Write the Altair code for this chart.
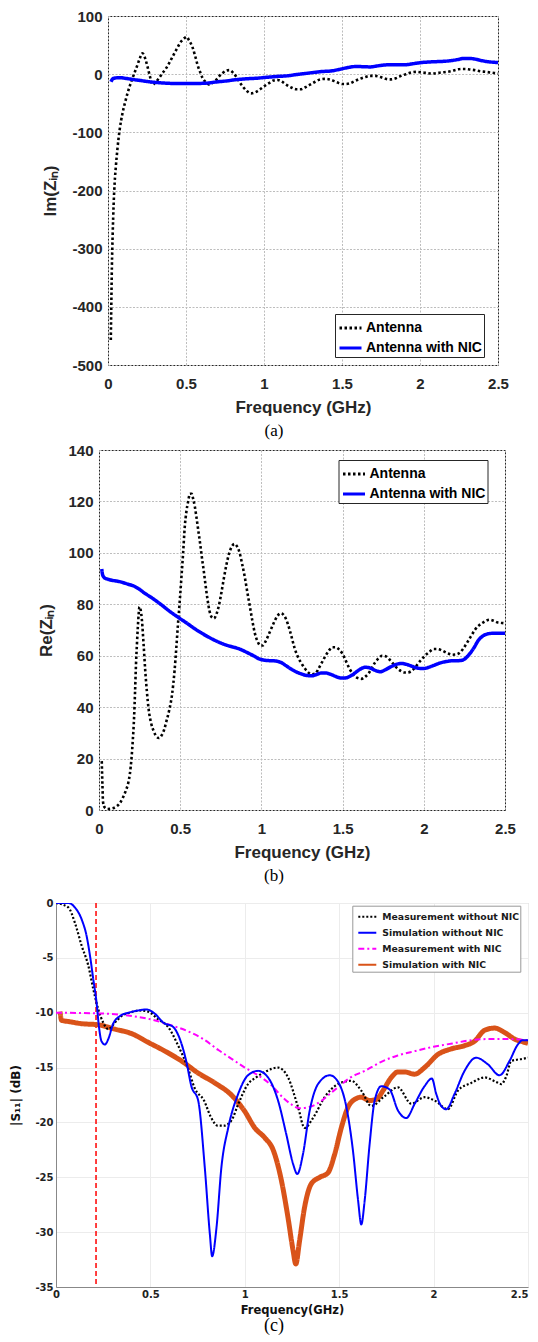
import altair as alt
import pandas as pd

FREQ_TICKS = [0, 0.5, 1, 1.5, 2, 2.5]

# ---------------- Panel (a): Im(Zin) ----------------
SER_A = ["Antenna", "Antenna with NIC"]
a_ant_f = [0.018, 0.021, 0.025, 0.03, 0.036, 0.043, 0.05, 0.061, 0.075, 0.093, 0.11, 0.125, 0.14, 0.157,
           0.175, 0.189, 0.205, 0.221, 0.237, 0.254, 0.27, 0.286, 0.305, 0.329, 0.35, 0.372, 0.392, 0.414,
           0.44, 0.468, 0.49, 0.504, 0.52, 0.542, 0.558, 0.574, 0.59, 0.607, 0.628, 0.65, 0.67, 0.693,
           0.715, 0.735, 0.757, 0.778, 0.8, 0.821, 0.842, 0.863, 0.89, 0.917, 0.945, 0.97, 1.0, 1.035,
           1.06, 1.088, 1.115, 1.142, 1.175, 1.206, 1.235, 1.262, 1.295, 1.328, 1.36, 1.394, 1.42, 1.45,
           1.477, 1.504, 1.525, 1.548, 1.58, 1.615, 1.648, 1.68, 1.715, 1.747, 1.78, 1.81, 1.845, 1.879,
           1.91, 1.945, 1.98, 2.01, 2.045, 2.077, 2.11, 2.14, 2.175, 2.21, 2.24, 2.264, 2.29, 2.32, 2.35,
           2.385, 2.42, 2.45, 2.475, 2.5]
a_ant_v = [-457, -400, -330, -275, -225, -185, -160, -127, -95, -67, -48, -33, -20, -7,
           6, 16, 28, 36, 28, 12, -5, -18, -14, -6, 2, 10, 19, 30,
           43, 56, 62, 64, 58, 46, 32, 16, 4, -7, -14, -18, -15, -10,
           -3, 2, 6, 7, 3, -4, -13, -21, -29, -33, -31, -27, -21, -15,
           -11, -10, -13, -18, -23, -26, -26, -23, -18, -13, -9, -8, -9, -12,
           -15, -17, -17, -16, -12, -8, -5, -3, -3, -5, -8, -9, -7, -3,
           0, 3, 4, 3, 2, 1, 2, 3, 4, 6, 8, 9, 9, 8, 7,
           5, 4, 3, 2, 1]
a_nic_f = [0.019, 0.025, 0.03, 0.04, 0.072, 0.12, 0.157, 0.21, 0.264, 0.32, 0.372, 0.44, 0.5, 0.56,
           0.628, 0.69, 0.757, 0.82, 0.885, 0.95, 1.013, 1.08, 1.142, 1.2, 1.26, 1.32, 1.37, 1.43, 1.48,
           1.54, 1.58, 1.615, 1.68, 1.735, 1.79, 1.85, 1.9, 1.955, 2.01, 2.06, 2.1, 2.15, 2.19, 2.24,
           2.28, 2.32, 2.36, 2.4, 2.45, 2.5]
a_nic_v = [-13, -10, -8, -7, -6, -7.5, -9, -11, -13, -14.5, -15.5, -16, -16, -16,
           -15.5, -13.5, -11.7, -9.5, -8, -7, -5.5, -4, -3, -1, 1, 3, 4.5, 5.5, 8,
           11.5, 13, 13, 12.5, 14.5, 16, 16, 16, 18, 20, 21, 21.5, 22, 23, 25,
           27, 27, 25.5, 23, 21, 20]

# ---------------- Panel (b): Re(Zin) ----------------
b_ant_f = [0.017, 0.021, 0.025, 0.035, 0.053, 0.08, 0.106, 0.13, 0.148, 0.165, 0.18, 0.19, 0.2, 0.208,
           0.216, 0.222, 0.228, 0.234, 0.239, 0.244, 0.249, 0.256, 0.264, 0.275, 0.285, 0.295, 0.306,
           0.32, 0.338, 0.355, 0.37, 0.385, 0.4, 0.415, 0.433, 0.45, 0.465, 0.476, 0.486, 0.497, 0.507,
           0.518, 0.528, 0.538, 0.549, 0.56, 0.57, 0.58, 0.59, 0.602, 0.613, 0.624, 0.634, 0.645, 0.655,
           0.668, 0.68, 0.694, 0.708, 0.722, 0.74, 0.755, 0.77, 0.785, 0.8, 0.818, 0.835, 0.85, 0.866,
           0.882, 0.898, 0.914, 0.93, 0.946, 0.961, 0.977, 0.993, 1.009, 1.025, 1.04, 1.057, 1.078,
           1.099, 1.12, 1.135, 1.15, 1.162, 1.183, 1.204, 1.225, 1.247, 1.268, 1.289, 1.31, 1.331,
           1.352, 1.373, 1.395, 1.416, 1.437, 1.458, 1.48, 1.5, 1.52, 1.542, 1.563, 1.585, 1.6, 1.616,
           1.638, 1.659, 1.68, 1.7, 1.722, 1.744, 1.765, 1.786, 1.81, 1.838, 1.86, 1.88, 1.9, 1.923,
           1.945, 1.965, 1.987, 2.007, 2.035, 2.06, 2.085, 2.113, 2.145, 2.176, 2.2, 2.218, 2.24, 2.261,
           2.29, 2.314, 2.34, 2.367, 2.39, 2.409, 2.43, 2.451, 2.475, 2.5]
b_ant_v = [19, 10, 3, 1, 0.4, 0.6, 1.3, 2.8, 4.9, 7.5, 10.5, 14, 20, 27,
           36, 46, 57, 65, 71, 76, 79, 78, 74, 64, 54, 46, 39,
           34, 30.5, 28.5, 28, 29, 31, 34.5, 39, 45, 54, 63, 72, 81, 90,
           100, 110, 116, 120, 123, 123, 121, 118, 113, 108, 103, 98, 93, 88,
           82, 77.5, 75, 74.5, 76, 80, 85, 90.5, 95.5, 99.5, 102.5, 103.5, 102.5, 100,
           95.5, 90.5, 84.5, 78.8, 73, 68.4, 65.5, 64, 64, 65.5, 67.5, 70, 73,
           75.5, 76.5, 76, 74.5, 72.5, 68, 63, 59.5, 57, 55, 53.5, 52.8, 53,
           55, 57.4, 60, 62, 63.3, 63.3, 62.3, 60.7, 58, 55, 53, 51.6, 51.2, 51,
           51.8, 53, 55.2, 57.4, 59, 60, 59.8, 58.7, 57, 55, 54, 53.5, 53.5, 54,
           55.3, 57, 58.6, 60, 61.5, 62.6, 62.6, 62, 61, 60.4, 60.5, 61, 62.5, 64.5,
           67.5, 70, 71.8, 73, 73.8, 74, 73.6, 73, 72.8, 72.6]
b_nic_f = [0.017, 0.022, 0.032, 0.063, 0.127, 0.18, 0.211, 0.245, 0.275, 0.33, 0.38, 0.43, 0.486, 0.54,
           0.592, 0.645, 0.697, 0.74, 0.78, 0.825, 0.866, 0.91, 0.951, 0.985, 1.014, 1.045, 1.078, 1.1,
           1.12, 1.15, 1.183, 1.215, 1.247, 1.28, 1.31, 1.34, 1.37, 1.395, 1.42, 1.448, 1.475, 1.5,
           1.522, 1.542, 1.57, 1.595, 1.615, 1.638, 1.665, 1.69, 1.712, 1.733, 1.765, 1.797, 1.83, 1.86,
           1.89, 1.923, 1.955, 1.987, 2.01, 2.03, 2.06, 2.092, 2.12, 2.145, 2.17, 2.198, 2.22, 2.24,
           2.262, 2.282, 2.31, 2.335, 2.36, 2.388, 2.42, 2.451, 2.5]
b_nic_v = [93.7, 91.5, 90.4, 89.6, 88.8, 87.8, 87.2, 86, 84.6, 82.3, 80, 77.5, 75, 72.7,
           70.4, 68.3, 66.5, 65.2, 64.2, 63.4, 62.6, 61.3, 60, 58.8, 58.3, 58.1, 58, 57.8,
           57.4, 56.2, 54.8, 53.7, 52.9, 52.3, 52.2, 52.7, 53.3, 53.3, 52.9, 52.2, 51.5, 51.3,
           51.4, 51.9, 53, 54.2, 55, 55.5, 55.3, 54.6, 54, 53.8, 54.6, 55.7, 56.6, 57,
           56.7, 56, 55.3, 55, 55.1, 55.5, 56.2, 57, 57.5, 57.8, 58, 58, 58.1, 58.3,
           59.3, 60.7, 63.2, 65.9, 67.5, 68.4, 68.7, 68.7, 68.7]

# ---------------- Panel (c): |S11| ----------------
SER_C = ["Measurement without NIC", "Simulation without NIC", "Measurement with NIC", "Simulation with NIC"]
c_mw_f = [0.0, 0.065, 0.1, 0.136, 0.171, 0.197, 0.224, 0.25, 0.277, 0.312, 0.347, 0.39, 0.444, 0.488,
          0.541, 0.594, 0.647, 0.7, 0.735, 0.784, 0.82, 0.857, 0.89, 0.93, 0.966, 1.017, 1.06, 1.106,
          1.176, 1.229, 1.282, 1.317, 1.361, 1.423, 1.494, 1.564, 1.617, 1.67, 1.741, 1.811, 1.882,
          1.952, 2.005, 2.076, 2.129, 2.199, 2.27, 2.33, 2.358, 2.385, 2.411, 2.473, 2.5]
c_mw_v = [0, -0.4, -1.8, -3.9, -5.7, -7.8, -9.7, -10.9, -11.5, -10.9, -10.3, -10.0, -9.8, -9.9,
          -10.6, -11.3, -13.0, -15.1, -16.9, -18.0, -19.5, -20.3, -20.3, -19.8, -18.3, -16.5, -15.9, -15.4,
          -15.0, -15.9, -18.6, -20.5, -19.6, -17.7, -16.5, -16.2, -17.1, -18.5, -17.6, -16.8, -18.3,
          -17.7, -18.0, -18.8, -17.1, -16.4, -15.9, -16.3, -16.5, -15.8, -14.4, -14.2, -14.1]
c_sw_f = [0.0, 0.065, 0.1, 0.136, 0.162, 0.18, 0.197, 0.215, 0.227, 0.241, 0.259, 0.277, 0.303, 0.339,
          0.383, 0.435, 0.479, 0.524, 0.568, 0.621, 0.656, 0.691, 0.717, 0.753, 0.788, 0.815, 0.827,
          0.85, 0.876, 0.912, 0.965, 1.017, 1.07, 1.123, 1.176, 1.22, 1.256, 1.278, 1.308, 1.344, 1.388,
          1.45, 1.494, 1.538, 1.573, 1.6, 1.617, 1.635, 1.661, 1.688, 1.723, 1.767, 1.811, 1.855, 1.9,
          1.952, 1.991, 2.014, 2.04, 2.067, 2.111, 2.164, 2.225, 2.287, 2.349, 2.402, 2.446, 2.473, 2.5]
c_sw_v = [0, 0, -0.4, -1.5, -3.0, -4.8, -6.9, -9.1, -11.2, -12.6, -12.9, -12.4, -11.0, -10.3,
          -10.0, -9.8, -9.7, -10.1, -10.9, -11.3, -12.4, -14.5, -16.7, -18.0, -24.1, -30.2, -32.2,
          -29.6, -24.1, -20.5, -17.4, -15.7, -15.3, -15.9, -18.0, -21.1, -23.8, -24.7, -22.9, -18.9, -16.5,
          -15.7, -16.3, -18.6, -22.6, -27.1, -29.3, -27.1, -22.0, -18.0, -16.7, -17.0, -18.9, -19.6, -18.3,
          -16.7, -16.0, -17.4, -18.5, -18.8, -17.4, -15.3, -14.1, -14.7, -15.7, -14.4, -12.9, -12.5, -12.5]
c_mn_f = [0.0, 0.2, 0.35, 0.5, 0.6, 0.7, 0.78, 0.86, 0.93, 1.0, 1.07, 1.14, 1.2, 1.25, 1.29, 1.34,
          1.4, 1.45, 1.5, 1.56, 1.635, 1.72, 1.81, 1.9, 2.0, 2.1, 2.2, 2.3, 2.4, 2.5]
c_mn_v = [-10.0, -10.05, -10.2, -10.6, -11.1, -11.7, -12.4, -13.4, -14.2, -15.0, -15.7, -16.6, -17.7,
          -18.4, -18.7, -18.6, -18.1, -17.4, -16.7, -15.9, -15.3, -14.5, -13.9, -13.5, -13.1, -12.8,
          -12.5, -12.4, -12.4, -12.5]
c_sn_f = [0.021, 0.03, 0.065, 0.136, 0.224, 0.312, 0.4, 0.488, 0.577, 0.665, 0.753, 0.841, 0.929, 1.0,
          1.053, 1.106, 1.15, 1.194, 1.229, 1.256, 1.27, 1.29, 1.317, 1.352, 1.397, 1.44, 1.476, 1.511,
          1.547, 1.582, 1.617, 1.661, 1.697, 1.732, 1.776, 1.811, 1.847, 1.9, 1.952, 2.023, 2.093, 2.164,
          2.217, 2.27, 2.323, 2.376, 2.429, 2.482, 2.5]
c_sn_v = [-9.9, -10.7, -10.8, -11.0, -11.1, -11.5, -11.9, -12.7, -13.5, -14.4, -15.5, -16.4, -17.5, -19.0,
          -20.5, -21.4, -22.5, -25.3, -28.7, -31.7, -32.9, -30.8, -27.7, -25.6, -25.0, -24.6, -22.9, -20.5,
          -18.6, -17.9, -17.7, -18.0, -17.9, -17.1, -15.9, -15.4, -15.4, -15.6, -15.0, -13.8, -13.3, -13.0,
          -12.6, -11.6, -11.4, -11.8, -12.4, -12.7, -12.8]
c_cutoff = [0.212]


def frame(f, v, name):
    return pd.DataFrame({"f": f, "v": v, "series": name})


AXC = "#262626"
SANS = "Liberation Sans"
PLAIN = "'' + datum.value"

# layout knobs
SPACER = {"a": 33, "b": 29, "c": 0.05}


def spacer(w):
    return alt.Chart(pd.DataFrame({"s": [0]})).mark_point(
        opacity=0, size=0, strokeWidth=0).properties(width=w, height=5)


def indep(ch):
    return ch.resolve_scale(color="independent", strokeDash="independent").resolve_legend(
        color="independent", strokeDash="independent")


def ab_x_axis():
    return alt.Axis(values=FREQ_TICKS, labelExpr=PLAIN, title="Frequency (GHz)", labelFont=SANS,
                    labelFontSize=15, labelFontWeight="bold", labelColor=AXC, labelPadding=11,
                    labelFlush=False, labelOverlap=False, ticks=False, domain=False, grid=True,
                    gridColor="#bdbdbd", gridDash=[2, 1.5], gridWidth=1, titleFont=SANS,
                    titleFontSize=17, titleFontWeight="bold", titleColor=AXC, titlePadding=8)


def ab_y_axis(vals, title):
    return alt.Axis(values=vals, labelExpr=PLAIN, title=title, labelFont=SANS, labelFontSize=15,
                    labelFontWeight="bold", labelColor=AXC, labelPadding=6, labelFlush=False,
                    labelOverlap=False, ticks=False, domain=False, grid=True, gridColor="#bdbdbd",
                    gridDash=[2, 1.5], gridWidth=1, titleFont=SANS, titleFontSize=17,
                    titleFontWeight="bold", titleColor=AXC, titlePadding=12)


def ab_legend(lx, ly):
    return alt.Legend(title=None, orient="none", legendX=lx, legendY=ly, fillColor="white",
                      strokeColor=AXC, padding=1.5, labelFont=SANS, labelFontSize=14,
                      labelFontWeight="bold", labelColor="black", symbolType="stroke",
                      symbolSize=484, symbolStrokeWidth=3, rowPadding=-1.5, labelOffset=3,
                      symbolOffset=1.5)


def ab_panel(df, ydom, yvals, ytitle, lx, ly, w, h, caption, cdx):
    leg = ab_legend(lx, ly)
    x = alt.X("f:Q", scale=alt.Scale(domain=[0, 2.5], nice=False), axis=ab_x_axis())
    y = alt.Y("v:Q", scale=alt.Scale(domain=ydom, nice=False), axis=ab_y_axis(yvals, ytitle))
    color = alt.Color("series:N", scale=alt.Scale(domain=SER_A, range=["#000000", "#0000ff"]), legend=leg)
    dash = alt.StrokeDash("series:N", scale=alt.Scale(domain=SER_A, range=[[2.5, 2.5], [1, 0]]), legend=leg)
    base = alt.Chart(df)
    l1 = base.transform_filter(alt.datum.series == SER_A[0]).mark_line(
        strokeWidth=2.6, interpolate="monotone", clip=True).encode(x=x, y=y, color=color, strokeDash=dash)
    l2 = base.transform_filter(alt.datum.series == SER_A[1]).mark_line(
        strokeWidth=3.5, interpolate="monotone", clip=True).encode(x=x, y=y, color=color, strokeDash=dash)
    return alt.layer(l1, l2).properties(
        width=w, height=h,
        view=alt.ViewBackground(stroke=AXC, strokeWidth=1),
        title=alt.TitleParams(caption, orient="bottom", frame="group", anchor="middle", dx=cdx,
                              font="Liberation Serif", fontSize=17, fontWeight="normal",
                              color="black", offset=8),
    )


dfA = pd.concat([frame(a_ant_f, a_ant_v, SER_A[0]), frame(a_nic_f, a_nic_v, SER_A[1])])
dfB = pd.concat([frame(b_ant_f, b_ant_v, SER_A[0]), frame(b_nic_f, b_nic_v, SER_A[1])])

panelA = ab_panel(dfA, [-500, 100], list(range(-500, 101, 100)), "Im(Zᵢₙ)", 227, 298, 390, 349, "(a)", -29)
panelB = ab_panel(dfB, [0, 140], list(range(0, 141, 20)), "Re(Zᵢₙ)", 239.5, 10, 406, 360, "(b)", -28)

# ---- panel (c)
CFONT = "DejaVu Sans"
dfC = pd.concat([frame(c_mw_f, c_mw_v, SER_C[0]), frame(c_sw_f, c_sw_v, SER_C[1]),
                 frame(c_mn_f, c_mn_v, SER_C[2]), frame(c_sn_f, c_sn_v, SER_C[3])])
legC = alt.Legend(title=None, orient="none", legendX=296.3, legendY=2.7, fillColor="white",
                  strokeColor="#999999", padding=1, labelFont=CFONT, labelFontSize=9.3,
                  labelFontWeight="bold", labelColor="#1a1a1a", symbolType="stroke",
                  symbolSize=324, symbolStrokeWidth=2, rowPadding=-6.7, labelOffset=5, symbolOffset=4)
xC = alt.X("f:Q", scale=alt.Scale(domain=[0, 2.5], nice=False),
           axis=alt.Axis(values=FREQ_TICKS, labelExpr=PLAIN, title="Frequency(GHz)", labelFont=CFONT,
                         labelFontSize=10, labelFontWeight="bold", labelColor="#222", labelPadding=2.5,
                         labelFlush=False, labelOverlap=False, ticks=False,
                         labelAlign={"condition": {"test": "datum.value == 2.5", "value": "right"},
                                     "value": "center"},
                         domainColor="#888", grid=True, gridColor="#ececec", titleFont=CFONT,
                         titleFontSize=11.5, titleFontWeight="bold", titleColor="#111", titlePadding=4.5))
yC = alt.Y("v:Q", scale=alt.Scale(domain=[-35, 0], nice=False),
           axis=alt.Axis(values=list(range(-35, 1, 5)), labelExpr=PLAIN, title="|S₁₁| (dB)", labelFont=CFONT,
                         labelFontSize=10, labelFontWeight="bold", labelColor="#222", labelPadding=3,
                         labelFlush=False, labelOverlap=False, ticks=False,
                         domainColor="#888", grid=True, gridColor="#ececec", titleFont=CFONT,
                         titleFontSize=12, titleFontWeight="bold", titleColor="#111", titlePadding=12))
colorC = alt.Color("series:N", scale=alt.Scale(domain=SER_C, range=["#000000", "#0000ff", "#ff00ff", "#d95319"]),
                   legend=legC)
dashC = alt.StrokeDash("series:N", scale=alt.Scale(domain=SER_C, range=[[2, 2], [1, 0], [6, 3, 2, 3], [1, 0]]),
                       legend=legC)
baseC = alt.Chart(dfC)
widths = [2.2, 2.0, 2.0, 5.0]
order = [3, 0, 2, 1]
layersC = []
red = alt.Chart(pd.DataFrame({"f": c_cutoff})).mark_rule(color="#ff0000", strokeDash=[5, 3], strokeWidth=1.5).encode(x="f:Q")
layersC.append(red)
for i in order:
    layersC.append(baseC.transform_filter(alt.datum.series == SER_C[i]).mark_line(
        strokeWidth=widths[i], interpolate="monotone", clip=True).encode(x=xC, y=yC, color=colorC, strokeDash=dashC))
panelC = alt.layer(*layersC).properties(
    width=472, height=384,
    view=alt.ViewBackground(stroke="#c8c8c8", strokeWidth=1),
    title=alt.TitleParams("(c)", orient="bottom", frame="group", anchor="middle", dx=-18,
                          font="Liberation Serif", fontSize=18, fontWeight="normal", color="black", offset=1.5),
)

rowA = indep(alt.hconcat(spacer(SPACER["a"]), panelA, spacing=0))
rowB = indep(alt.hconcat(spacer(SPACER["b"]), panelB, spacing=0))
rowC = indep(alt.hconcat(spacer(SPACER["c"]), panelC, spacing=0))

top = indep(alt.vconcat(rowA, rowB, spacing=2))
chart = indep(alt.vconcat(top, rowC, spacing=12)).properties(
    padding={"left": 0, "top": 0, "right": 0, "bottom": 0}
).configure_view(stroke=None)

chart.save("out.html", embed_options={"renderer": "svg", "actions": False})
